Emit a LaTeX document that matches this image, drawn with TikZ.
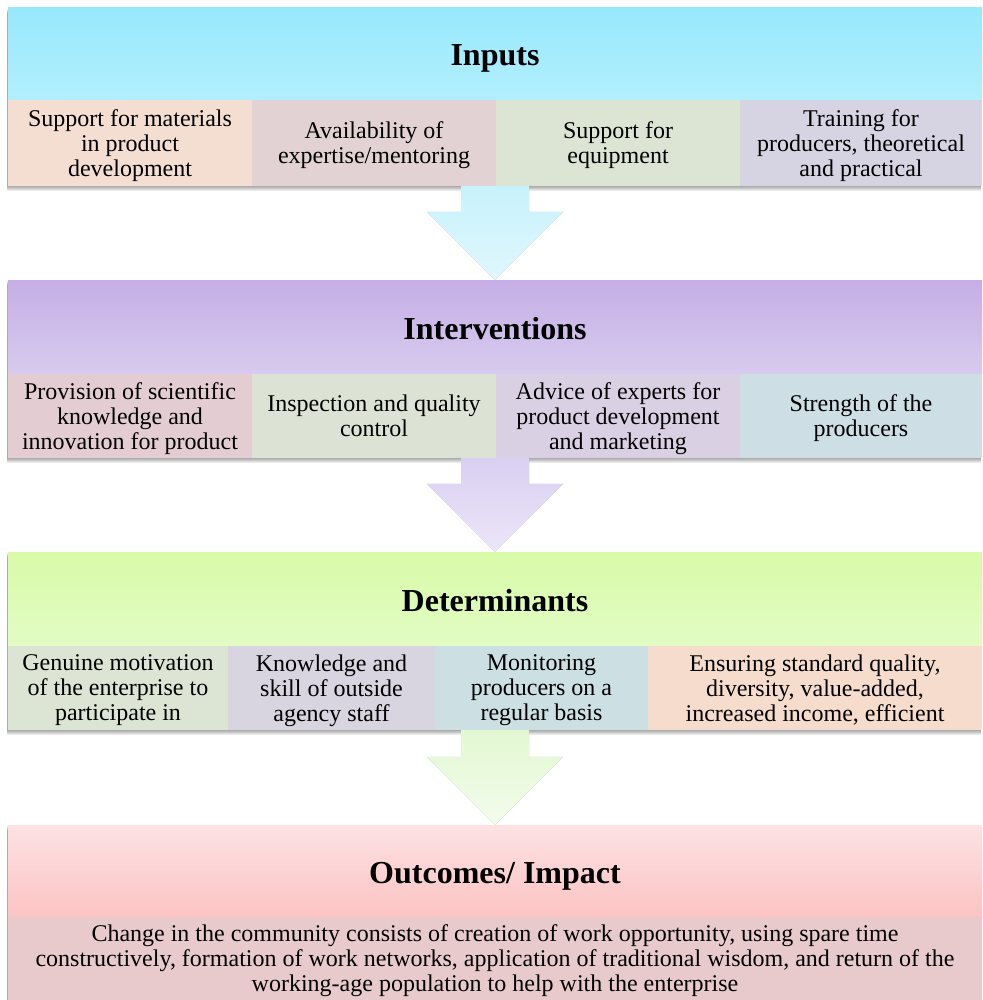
\documentclass[tikz,border=0pt]{standalone}
\usepackage{fontspec}
\setmainfont{Liberation Serif}
\usetikzlibrary{calc,backgrounds}
\definecolor{inTop}{HTML}{97E8FC}
\definecolor{inBot}{HTML}{B2EFFE}
\definecolor{inCa}{HTML}{F4DDD1}
\definecolor{inCb}{HTML}{E2D2D4}
\definecolor{inCc}{HTML}{DCE5D4}
\definecolor{inCd}{HTML}{D6D4E3}
\definecolor{arAtop}{HTML}{C8F2FB}
\definecolor{arAbot}{HTML}{E0F7FD}
\definecolor{ivTop}{HTML}{C5AEE6}
\definecolor{ivBot}{HTML}{D7CBEE}
\definecolor{ivCa}{HTML}{E3CDD2}
\definecolor{ivCb}{HTML}{DCE3D5}
\definecolor{ivCc}{HTML}{D9D0E3}
\definecolor{ivCd}{HTML}{CDDFE5}
\definecolor{arBtop}{HTML}{D9CFF2}
\definecolor{arBbot}{HTML}{ECE6F8}
\definecolor{deTop}{HTML}{D8FBA8}
\definecolor{deBot}{HTML}{E2FCC4}
\definecolor{deCa}{HTML}{DCE5D4}
\definecolor{deCb}{HTML}{D8D4E0}
\definecolor{deCc}{HTML}{CCE0E4}
\definecolor{deCd}{HTML}{F5DCCC}
\definecolor{arCtop}{HTML}{E2F8D2}
\definecolor{arCbot}{HTML}{F3FCEC}
\definecolor{ouTop}{HTML}{FDE2E4}
\definecolor{ouBot}{HTML}{FCC3C3}
\definecolor{ouC}{HTML}{E8CACC}
\newcommand\blkarrowpath[2]{($(#1)+(-34,0)$) -- ($(#1)+(34,0)$) -- ($(#2)+(34,-68)$) -- ($(#2)+(68,-68)$)
    -- (#2) -- ($(#2)+(-68,-68)$) -- ($(#2)+(-34,-68)$) -- cycle}
\begin{document}
\begin{tikzpicture}[x=1pt,y=-1pt,
  hdr/.style={rectangle, inner sep=0pt, minimum width=974pt, text height=24pt, text depth=0pt, font=\fontsize{32}{36}\selectfont\bfseries},
  cell/.style={rectangle, inner sep=0pt, align=center, text depth=0pt, font=\fontsize{24}{25}\selectfont},
  softshadow/.style={fill=black, opacity=0.075}
]
\useasboundingbox (0,0) rectangle (982,1000);

% ---------- Inputs ----------
\node[hdr, minimum height=92pt, top color=inTop, bottom color=inBot] (inH) at (495,54) {Inputs};
\node[cell, minimum width=244pt, minimum height=86pt, fill=inCa] (inA) at (130,143) {Support for materials\\in product\\development};
\node[cell, minimum width=244pt, minimum height=86pt, fill=inCb] (inB) at (374,143) {Availability of\\expertise/mentoring};
\node[cell, minimum width=244pt, minimum height=86pt, fill=inCc] (inC) at (618,143) {Support for\\equipment};
\node[cell, minimum width=242pt, minimum height=86pt, fill=inCd] (inD) at (861,143) {Training for\\producers, theoretical\\and practical};

% ---------- Interventions ----------
\node[hdr, minimum height=94pt, top color=ivTop, bottom color=ivBot] (ivH) at (495,327) {Interventions};
\node[cell, minimum width=244pt, minimum height=84pt, fill=ivCa] (ivA) at (130,416) {Provision of scientific\\knowledge and\\innovation for product};
\node[cell, minimum width=244pt, minimum height=84pt, fill=ivCb] (ivB) at (374,416) {Inspection and quality\\control};
\node[cell, minimum width=244pt, minimum height=84pt, fill=ivCc] (ivC) at (618,416) {Advice of experts for\\product development\\and marketing};
\node[cell, minimum width=242pt, minimum height=84pt, fill=ivCd] (ivD) at (861,416) {Strength of the\\producers};

% ---------- Determinants ----------
\node[hdr, minimum height=94pt, top color=deTop, bottom color=deBot] (deH) at (495,599) {Determinants};
\node[cell, minimum width=220pt, minimum height=84pt, fill=deCa] (deA) at (118,688) {Genuine motivation\\of the enterprise to\\participate in};
\node[cell, minimum width=207pt, minimum height=84pt, fill=deCb] (deB) at (331.5,688) {Knowledge and\\skill of outside\\agency staff};
\node[cell, minimum width=213pt, minimum height=84pt, fill=deCc] (deC) at (541.5,688) {Monitoring\\producers on a\\regular basis};
\node[cell, minimum width=334pt, minimum height=84pt, fill=deCd] (deD) at (815,688) {Ensuring standard quality,\\diversity, value-added,\\increased income, efficient};

% ---------- Outcomes ----------
\node[hdr, minimum height=92pt, top color=ouTop, bottom color=ouBot] (ouH) at (495,871) {Outcomes/ Impact};
\node[cell, minimum width=974pt, minimum height=83pt, fill=ouC] (ouA) at (495,958.5) {Change in the community consists of creation of work opportunity, using spare time\\constructively, formation of work networks, application of traditional wisdom, and return of the\\working-age population to help with the enterprise};

% ---------- background and band shadows ----------
\begin{scope}[on background layer]
  \fill[white] (0,0) rectangle (982,1000);
  \foreach \k in {1,...,5}{
    \fill[softshadow] ($(inH.north west)+(-1,\k)$) rectangle ($(inD.south east)+(-1,\k)$);
    \fill[softshadow] ($(ivH.north west)+(-1,\k)$) rectangle ($(ivD.south east)+(-1,\k)$);
    \fill[softshadow] ($(deH.north west)+(-1,\k)$) rectangle ($(deD.south east)+(-1,\k)$);
    \fill[softshadow] ($(ouH.north west)+(-1,\k)$) rectangle ($(ouA.south east)+(-1,\k)$);
  }
\end{scope}

% ---------- block arrows ----------
\coordinate (aS) at (inH.south |- inA.south);
\coordinate (aE) at (ivH.north);
\coordinate (bS) at (ivH.south |- ivA.south);
\coordinate (bE) at (deH.north);
\coordinate (cS) at (deH.south |- deA.south);
\coordinate (cE) at (ouH.north);
\foreach \s/\e/\ct/\cb in {aS/aE/arAtop/arAbot, bS/bE/arBtop/arBbot, cS/cE/arCtop/arCbot}{
  \foreach \k in {1,...,4}{
    \fill[softshadow, shift={(-0.5,\k)}] \blkarrowpath{\s}{\e};
  }
  \path[top color=\ct, bottom color=\cb] \blkarrowpath{\s}{\e};
}
\end{tikzpicture}
\end{document}
